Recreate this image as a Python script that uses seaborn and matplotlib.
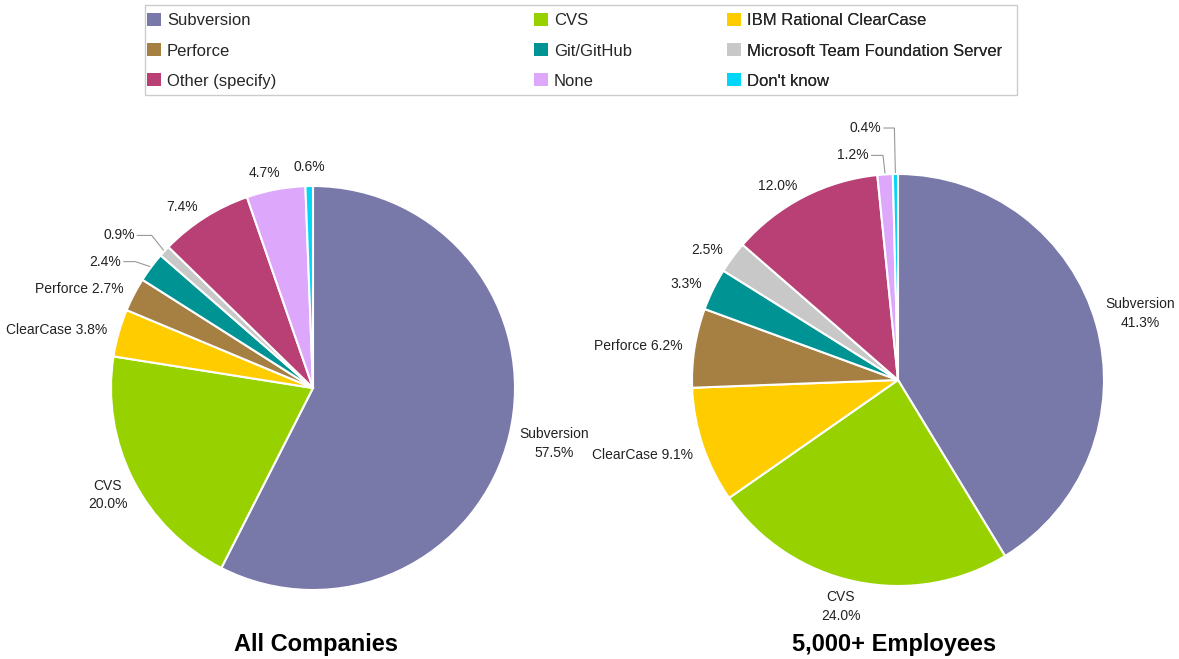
import numpy as np
import matplotlib
matplotlib.use("Agg")
import matplotlib.pyplot as plt
from matplotlib.patches import Patch, Rectangle
import seaborn as sns

sns.set_theme(style="white")
plt.rcParams['font.family'] = ['Liberation Sans', 'DejaVu Sans']

# ---------------- data ----------------
categories = ["Subversion", "CVS", "IBM Rational ClearCase", "Perforce", "Git/GitHub",
              "Microsoft Team Foundation Server", "Other (specify)", "None", "Don't know"]
short_names = ["Subversion", "CVS", "ClearCase", "Perforce", "", "", "", "", ""]
all_companies = [57.5, 20.0, 3.8, 2.7, 2.4, 0.9, 7.4, 4.7, 0.6]
large_companies = [41.3, 24.0, 9.1, 6.2, 3.3, 2.5, 12.0, 1.2, 0.4]
titles = ["All Companies", "5,000+ Employees"]
colors = ["#7878a9", "#97d200", "#ffcc00", "#a68042", "#009393",
          "#c8c8c8", "#b84075", "#dda8fb", "#00d6f7"]

W, H = 1179, 659
fig = plt.figure(figsize=(W / 100, H / 100), dpi=100)
ax = fig.add_axes([0, 0, 1, 1])

def py(y):
    return H - y

# label placement style per pie
pies = [
    dict(vals=all_companies, center=(313, py(388)), R=202, title_x=316,
         two_line={0, 1}, tweak={0: -1.5, 1: 3.0, 7: 2.5},
         leaders={4: dict(dx=-29, dy=5, elbow=-15), 5: dict(dx=-29, dy=15, elbow=-12)}),
    dict(vals=large_companies, center=(898, py(380)), R=206, title_x=894,
         two_line={0, 1}, tweak={0: 2.0, 1: -3.4, 2: 1.5},
         leaders={7: dict(dx=-16, dy=18, elbow=-2), 8: dict(dx=-14, dy=45, elbow=-1)}),
]

for p in pies:
    cx, cy = p["center"]
    R = p["R"]
    wedges, _ = ax.pie(p["vals"], colors=colors, startangle=90, counterclock=False,
                       center=(cx, cy), radius=R,
                       wedgeprops=dict(edgecolor="white", linewidth=1.5))
    for i, (w, v) in enumerate(zip(wedges, p["vals"])):
        mid_deg = (w.theta1 + w.theta2) / 2
        pct = f"{v:.1f}%"
        name = short_names[i]
        if i in p["two_line"]:
            txt = f"{name}\n{pct}"
        elif name:
            txt = f"{name} {pct}"
        else:
            txt = pct
        if i in p["leaders"]:
            mid = np.deg2rad(mid_deg)
            c, s = np.cos(mid), np.sin(mid)
            L = p["leaders"][i]
            ex, ey = cx + (R + 1) * c, cy + (R + 1) * s
            tx, ty = ex + L["dx"], ey + L["dy"]
            ax.text(tx, ty, txt, ha="right", va="center", fontsize=10, color="#222222")
            ax.plot([tx + 2, ex + L["elbow"], ex], [ty, ty, ey],
                    color="#999999", lw=0.8, solid_capstyle="butt")
            continue
        mid = np.deg2rad(mid_deg + p["tweak"].get(i, 0.0))
        c, s = np.cos(mid), np.sin(mid)
        r = R + 12
        x, y = cx + r * c, cy + r * s
        if c > 0.3:
            ha, va = "left", "center"
        elif c < -0.3:
            ha, va = "right", "center"
        else:
            ha = "center"
            va = "bottom" if s > 0 else "top"
        ax.text(x, y, txt, ha=ha, va=va, fontsize=10, color="#222222",
                multialignment="center", linespacing=1.45)

for p, t in zip(pies, titles):
    ax.text(p["title_x"], py(651), t, ha="center", va="baseline",
            fontsize=17, fontweight="bold", color="black")

# legend box
ax.add_patch(Rectangle((145, py(95)), 872, 90, facecolor="white",
                       edgecolor="#cccccc", lw=1, zorder=0))
col_x = [147, 534, 727]
for col in range(3):
    idx = [col + 3 * r for r in range(3)]
    handles = [Patch(facecolor=colors[k], edgecolor="none", label=categories[k]) for k in idx]
    leg = ax.legend(handles=handles, loc="upper left",
                    bbox_to_anchor=(col_x[col], py(13)), bbox_transform=ax.transData,
                    frameon=False, fontsize=12, handlelength=0.85, handleheight=0.85,
                    handletextpad=0.35, labelspacing=0.88, borderpad=0, borderaxespad=0)
    ax.add_artist(leg)

ax.set_xlim(0, W)
ax.set_ylim(0, H)
ax.set_aspect("auto")
ax.set_axis_off()

fig.savefig("out.png", dpi=100, facecolor="white")
